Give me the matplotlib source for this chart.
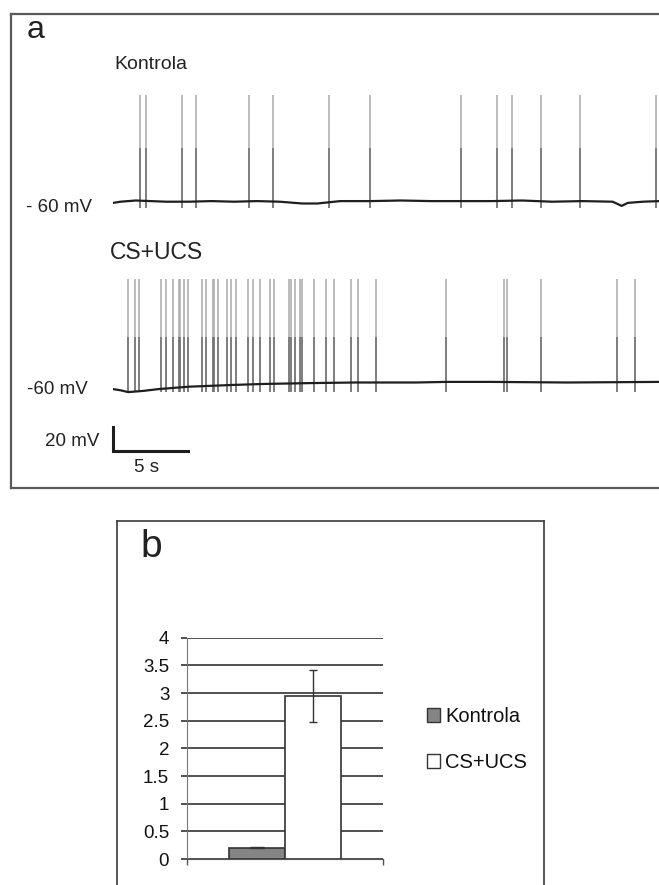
import numpy as np
import matplotlib
matplotlib.use('Agg')
import matplotlib.pyplot as plt
from matplotlib.patches import Patch

plt.rcParams['font.family'] = ['Liberation Sans', 'DejaVu Sans']

W, H = 659, 885

# panel a: spike times (s)
ctrl_spikes = [1.78, 2.18, 4.56, 5.48, 8.98, 10.57, 14.27, 16.97, 22.99,
               25.36, 26.35, 28.27, 30.85, 35.87]
cs_spikes = [0.96, 1.43, 1.74, 3.20, 3.53, 3.98, 4.33, 4.45, 4.71, 4.95,
             5.91, 6.12, 6.60, 6.69, 6.95, 7.54, 7.82, 8.10, 8.91, 9.26,
             9.71, 10.34, 10.65, 11.64, 11.78, 12.02, 12.35, 12.49, 13.30,
             14.10, 14.62, 15.70, 16.18, 17.35, 22.02, 25.80, 26.03, 28.27,
             33.30, 34.45]

# membrane potential baselines (s, mV)
ctrl_base_t = [0, 0.5, 1.0, 1.5, 2.5, 3.5, 5, 6.5, 8, 9.5, 11, 12.5, 13.5,
               15, 17, 19, 21, 23, 25, 27, 29, 31, 33, 33.6, 34, 35, 36.1]
ctrl_base_v = [-61, -60, -59.5, -59, -59.5, -60, -60, -59.5, -60, -59.5,
               -60, -61.5, -61.5, -59.5, -59.5, -59, -59.5, -59.5, -59.5,
               -59, -60, -59.5, -60, -63.5, -61, -60, -59.5]
cs_base_t = [0, 0.5, 1.0, 2.0, 3, 4, 5, 6, 8, 10, 13, 16, 20, 22, 25, 30, 36.1]
cs_base_v = [-65.5, -66.5, -68, -67, -65.5, -64.5, -63.5, -63, -62, -61.2,
             -60.5, -60, -60, -59.5, -59.5, -60, -59.5]

ctrl_peak, ctrl_mid = 29, -15
cs_peak, cs_mid = 26, -22
trough = -65

# panel b
groups = ['Kontrola', 'CS+UCS']
means = [0.20, 2.95]
errs = [0.01, 0.47]
bar_colors = ['#858585', '#ffffff']

fig = plt.figure(figsize=(W / 100, H / 100), dpi=100)


def box(l, t, r, b):
    return [l / W, 1 - b / H, (r - l) / W, (b - t) / H]


# panel a frame
fa = fig.add_axes(box(11, 13.5, 664, 487.5))
fa.set_xticks([])
fa.set_yticks([])
for s in ['left', 'top', 'bottom']:
    fa.spines[s].set_color('#5a5a5a')
    fa.spines[s].set_linewidth(1.6)
fa.spines['right'].set_visible(False)

px_s = 15.14
px_mv = 1.2
xmax = 546 / px_s

# top trace
ax1 = fig.add_axes(box(113, 201.7 - 95 * px_mv, 659, 201.7 + 10 * px_mv))
ax1.set_xlim(0, xmax)
ax1.set_ylim(-70, 35)
ax1.vlines(ctrl_spikes, trough, ctrl_peak, color='#b0b0b0', lw=1.2)
ax1.vlines(ctrl_spikes, trough, ctrl_mid, color='#747474', lw=1.2)
ax1.plot(ctrl_base_t, ctrl_base_v, color='#1e1e1e', lw=1.6)
ax1.axis('off')

# bottom trace with scale bar
ax2 = fig.add_axes(box(113, 382.5 - 93 * px_mv, 659, 382.5 + 72 * px_mv))
ax2.set_xlim(0, xmax)
ax2.set_ylim(-132, 33)
ax2.vlines(cs_spikes, trough - 3, cs_peak, color='#b0b0b0', lw=1.2)
ax2.vlines(cs_spikes, trough - 3, cs_mid, color='#747474', lw=1.2)
ax2.plot(cs_base_t, cs_base_v, color='#1e1e1e', lw=1.6)
sb_x0, sb_y0 = -0.03, -116.7
ax2.plot([sb_x0, sb_x0, sb_x0 + 5], [sb_y0 + 20, sb_y0, sb_y0],
         color='#1e1e1e', lw=2.2, solid_joinstyle='miter', clip_on=False)
ax2.axis('off')

txt = dict(color='#222222')
fig.text(27 / W, 1 - 38.5 / H, 'a', fontsize=23, va='baseline', **txt)
fig.text(114 / W, 1 - 69 / H, 'Kontrola', fontsize=14, va='baseline', **txt)
fig.text(110 / W, 1 - 259 / H, 'CS+UCS', fontsize=16.5, va='baseline', **txt)
fig.text(92 / W, 1 - 207 / H, '- 60 mV', fontsize=13.5, ha='right',
         va='center', **txt)
fig.text(88 / W, 1 - 390 / H, '-60 mV', fontsize=13.5, ha='right',
         va='center', **txt)
fig.text(99 / W, 1 - 441.5 / H, '20 mV', fontsize=13.5, ha='right',
         va='center', **txt)
fig.text(146.5 / W, 1 - 467.5 / H, '5 s', fontsize=13.5, ha='center',
         va='center', **txt)

# panel b frame
fb = fig.add_axes(box(116.7, 521, 544, 890))
fb.set_xticks([])
fb.set_yticks([])
for s in ['left', 'top', 'right']:
    fb.spines[s].set_color('#3a3a3a')
    fb.spines[s].set_linewidth(1.2)
fb.spines['bottom'].set_visible(False)
fig.text(140 / W, 1 - 557 / H, 'b', fontsize=28, va='baseline', **txt)

ax = fig.add_axes(box(187.3, 637.7, 383.3, 859))
w = 1 / 3.5
xs = [-w / 2, w / 2]
for x, m, e, c, g in zip(xs, means, errs, bar_colors, groups):
    ax.bar(x, m, width=w, color=c, edgecolor='#333333', lw=1.2, label=g,
           zorder=3)
    ax.errorbar(x, m, yerr=e, color='#333333', lw=1.0,
                capsize=3 if e > 0.05 else 5, capthick=1.0, zorder=4)
ax.set_xlim(-0.5, 0.5)
ax.set_ylim(0, 4)
ax.set_yticks(np.arange(0, 4.01, 0.5))
ax.set_yticklabels(['0', '0.5', '1', '1.5', '2', '2.5', '3', '3.5', '4'])
ax.yaxis.grid(True, color='#333333', lw=1.2, zorder=0)
ax.set_xticks([-0.5, 0.5])
ax.set_xticklabels([])
ax.tick_params(axis='y', length=4, width=1.2, color='#333333', labelsize=13.5,
               pad=9, labelcolor='#111111')
ax.tick_params(axis='x', length=4, width=1.0, color='#555555')
ax.spines['top'].set_visible(False)
ax.spines['right'].set_visible(False)
ax.spines['left'].set_color('#777777')
ax.spines['bottom'].set_color('#555555')
ax.set_axisbelow(True)

handles = [Patch(facecolor=c, edgecolor='#333333', lw=1.0) for c in bar_colors]
fig.legend(handles, groups, loc='center left',
           bbox_to_anchor=(427 / W, 1 - 739.5 / H), frameon=False,
           borderpad=0, borderaxespad=0,
           fontsize=14.5, handlelength=0.65, handleheight=0.65,
           handletextpad=0.25, labelspacing=1.35, labelcolor='#111111')

fig.savefig('out.png', dpi=100)
